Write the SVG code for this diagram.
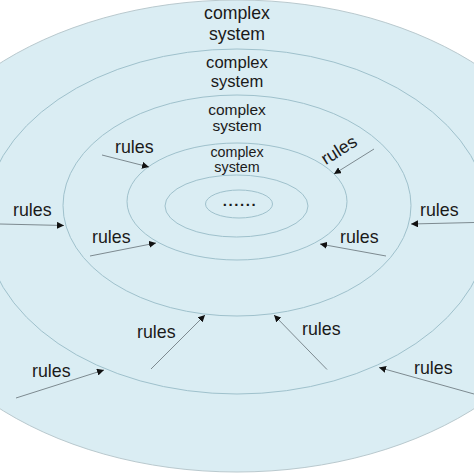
<svg xmlns="http://www.w3.org/2000/svg" width="474" height="474" viewBox="0 0 474 474">
<defs>
<marker id="ah" viewBox="0 0 10 10" refX="10" refY="5" markerWidth="7" markerHeight="7" markerUnits="userSpaceOnUse" orient="auto">
<path d="M0,0 L10,5 L0,10 z" fill="#111"/>
</marker>
</defs>
<style>
.ring{fill:none;stroke:#9fc1cc;stroke-width:1}
.t{font-family:"Liberation Sans",Arial,sans-serif;fill:#1a1a1a;text-anchor:middle}
.r{font-family:"Liberation Sans",Arial,sans-serif;fill:#1a1a1a;font-size:17.8px}
.arr{stroke:#7d8a90;stroke-width:1;fill:none;marker-end:url(#ah)}
</style>
<rect width="474" height="474" fill="#ffffff"/>
<g id="outer">
<ellipse cx="237" cy="236" rx="348" ry="236" fill="#daedf3" stroke="#b9c9ce" stroke-width="1"/>
</g>
<g id="ring5"><ellipse class="ring" cx="237" cy="221.5" rx="253" ry="172.5"/></g>
<g id="ring4"><ellipse class="ring" cx="237" cy="205.5" rx="174" ry="110.5"/></g>
<g id="ring3"><ellipse class="ring" cx="237" cy="201.5" rx="110" ry="58.5"/></g>
<g id="ring2"><ellipse class="ring" cx="236.5" cy="206" rx="71.5" ry="31"/></g>
<g id="ring1"><ellipse class="ring" cx="239" cy="204" rx="33.5" ry="14"/></g>
<g id="labels">
<text class="t" x="237" y="19" font-size="17.7">complex</text>
<text class="t" x="237" y="39.5" font-size="17.7">system</text>
<text class="t" x="237" y="68.3" font-size="16.6">complex</text>
<text class="t" x="237" y="86.5" font-size="16.6">system</text>
<text class="t" x="237" y="115" font-size="15.5">complex</text>
<text class="t" x="237" y="131" font-size="15.5">system</text>
<text class="t" x="237" y="156.7" font-size="14.3">complex</text>
<text class="t" x="237" y="172" font-size="14.3">system</text>
<text class="t" x="240" y="206" font-size="15" font-weight="bold" letter-spacing="1.6">......</text>
</g>
<g id="rules-labels">
<text class="r" x="115" y="152.5">rules</text>
<text class="r" x="339" y="156" text-anchor="middle" transform="rotate(-32 339 150)">rules</text>
<text class="r" x="13" y="216">rules</text>
<text class="r" x="92" y="243">rules</text>
<text class="r" x="340" y="243">rules</text>
<text class="r" x="420" y="215.5">rules</text>
<text class="r" x="32" y="377">rules</text>
<text class="r" x="137" y="338">rules</text>
<text class="r" x="302" y="335">rules</text>
<text class="r" x="414" y="373.5">rules</text>
</g>
<g id="connectors">
<line class="arr" x1="102" y1="155" x2="149" y2="167"/>
<line class="arr" x1="374" y1="149" x2="334" y2="174"/>
<line class="arr" x1="0" y1="224" x2="64" y2="225.5"/>
<line class="arr" x1="90" y1="256" x2="156" y2="243"/>
<line class="arr" x1="386" y1="256" x2="320" y2="244"/>
<line class="arr" x1="474" y1="222.5" x2="411" y2="224"/>
<line class="arr" x1="16" y1="398" x2="104" y2="370"/>
<line class="arr" x1="151" y1="369" x2="205" y2="315"/>
<line class="arr" x1="327" y1="369.5" x2="274" y2="315"/>
<line class="arr" x1="474" y1="394" x2="379" y2="367.5"/>
</g>
</svg>
